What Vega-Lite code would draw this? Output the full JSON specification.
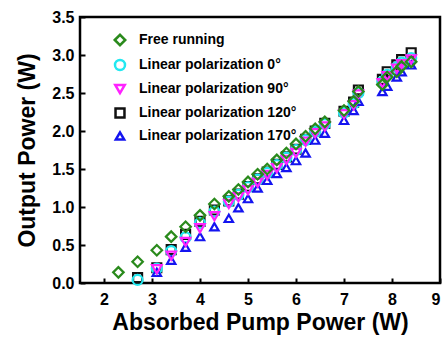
{
  "$schema": "https://vega.github.io/schema/vega-lite/v6.json",
  "width": 360,
  "height": 266,
  "autosize": {"type": "none"},
  "padding": {"left": 80, "top": 17, "right": 4, "bottom": 54},
  "background": "white",
  "config": {
    "font": "Liberation Sans",
    "view": {"stroke": "black", "strokeWidth": 2.5},
    "axis": {
      "domain": false,
      "grid": false,
      "tickColor": "black",
      "tickWidth": 2,
      "tickSize": -5,
      "labelFont": "Liberation Sans",
      "labelFontWeight": "bold",
      "labelFontSize": 16,
      "labelColor": "black",
      "titleFont": "Liberation Sans",
      "titleFontWeight": "bold",
      "titleFontSize": 23,
      "titleColor": "black"
    }
  },
  "data": {
    "values": [
      {"series": "Linear polarization 120°", "k": 1, "x": 2.7, "y": 0.07},
      {"series": "Linear polarization 120°", "k": 1, "x": 3.1, "y": 0.2},
      {"series": "Linear polarization 120°", "k": 1, "x": 3.4, "y": 0.44},
      {"series": "Linear polarization 120°", "k": 1, "x": 3.7, "y": 0.64},
      {"series": "Linear polarization 120°", "k": 1, "x": 4.0, "y": 0.81},
      {"series": "Linear polarization 120°", "k": 1, "x": 4.3, "y": 0.96},
      {"series": "Linear polarization 120°", "k": 1, "x": 4.6, "y": 1.08},
      {"series": "Linear polarization 120°", "k": 1, "x": 4.8, "y": 1.17},
      {"series": "Linear polarization 120°", "k": 1, "x": 5.0, "y": 1.27},
      {"series": "Linear polarization 120°", "k": 1, "x": 5.2, "y": 1.37},
      {"series": "Linear polarization 120°", "k": 1, "x": 5.4, "y": 1.46},
      {"series": "Linear polarization 120°", "k": 1, "x": 5.6, "y": 1.56},
      {"series": "Linear polarization 120°", "k": 1, "x": 5.8, "y": 1.66},
      {"series": "Linear polarization 120°", "k": 1, "x": 6.0, "y": 1.76},
      {"series": "Linear polarization 120°", "k": 1, "x": 6.2, "y": 1.89},
      {"series": "Linear polarization 120°", "k": 1, "x": 6.4, "y": 2.0},
      {"series": "Linear polarization 120°", "k": 1, "x": 6.6, "y": 2.1},
      {"series": "Linear polarization 120°", "k": 1, "x": 7.0, "y": 2.26},
      {"series": "Linear polarization 120°", "k": 1, "x": 7.2, "y": 2.38},
      {"series": "Linear polarization 120°", "k": 1, "x": 7.3, "y": 2.54},
      {"series": "Linear polarization 120°", "k": 1, "x": 7.8, "y": 2.68},
      {"series": "Linear polarization 120°", "k": 1, "x": 7.9, "y": 2.78},
      {"series": "Linear polarization 120°", "k": 1, "x": 8.1, "y": 2.87},
      {"series": "Linear polarization 120°", "k": 1, "x": 8.2, "y": 2.94},
      {"series": "Linear polarization 120°", "k": 1, "x": 8.4, "y": 3.03},

      {"series": "Linear polarization 0°", "k": 2, "x": 2.7, "y": 0.04},
      {"series": "Linear polarization 0°", "k": 2, "x": 3.1, "y": 0.19},
      {"series": "Linear polarization 0°", "k": 2, "x": 3.4, "y": 0.42},
      {"series": "Linear polarization 0°", "k": 2, "x": 3.7, "y": 0.6},
      {"series": "Linear polarization 0°", "k": 2, "x": 4.0, "y": 0.79},
      {"series": "Linear polarization 0°", "k": 2, "x": 4.3, "y": 0.94},
      {"series": "Linear polarization 0°", "k": 2, "x": 4.6, "y": 1.07},
      {"series": "Linear polarization 0°", "k": 2, "x": 4.8, "y": 1.16},
      {"series": "Linear polarization 0°", "k": 2, "x": 5.0, "y": 1.26},
      {"series": "Linear polarization 0°", "k": 2, "x": 5.2, "y": 1.36},
      {"series": "Linear polarization 0°", "k": 2, "x": 5.4, "y": 1.45},
      {"series": "Linear polarization 0°", "k": 2, "x": 5.6, "y": 1.55},
      {"series": "Linear polarization 0°", "k": 2, "x": 5.8, "y": 1.65},
      {"series": "Linear polarization 0°", "k": 2, "x": 6.0, "y": 1.75},
      {"series": "Linear polarization 0°", "k": 2, "x": 6.2, "y": 1.88},
      {"series": "Linear polarization 0°", "k": 2, "x": 6.4, "y": 1.99},
      {"series": "Linear polarization 0°", "k": 2, "x": 6.6, "y": 2.09},
      {"series": "Linear polarization 0°", "k": 2, "x": 7.0, "y": 2.24},
      {"series": "Linear polarization 0°", "k": 2, "x": 7.2, "y": 2.36},
      {"series": "Linear polarization 0°", "k": 2, "x": 7.3, "y": 2.5},
      {"series": "Linear polarization 0°", "k": 2, "x": 7.8, "y": 2.65},
      {"series": "Linear polarization 0°", "k": 2, "x": 7.9, "y": 2.74},
      {"series": "Linear polarization 0°", "k": 2, "x": 8.1, "y": 2.84},
      {"series": "Linear polarization 0°", "k": 2, "x": 8.2, "y": 2.9},
      {"series": "Linear polarization 0°", "k": 2, "x": 8.4, "y": 2.96},

      {"series": "Linear polarization 170°", "k": 3, "x": 3.1, "y": 0.14},
      {"series": "Linear polarization 170°", "k": 3, "x": 3.4, "y": 0.3},
      {"series": "Linear polarization 170°", "k": 3, "x": 3.7, "y": 0.47},
      {"series": "Linear polarization 170°", "k": 3, "x": 4.0, "y": 0.61},
      {"series": "Linear polarization 170°", "k": 3, "x": 4.3, "y": 0.74},
      {"series": "Linear polarization 170°", "k": 3, "x": 4.6, "y": 0.85},
      {"series": "Linear polarization 170°", "k": 3, "x": 4.8, "y": 0.99},
      {"series": "Linear polarization 170°", "k": 3, "x": 5.0, "y": 1.11},
      {"series": "Linear polarization 170°", "k": 3, "x": 5.2, "y": 1.25},
      {"series": "Linear polarization 170°", "k": 3, "x": 5.4, "y": 1.35},
      {"series": "Linear polarization 170°", "k": 3, "x": 5.6, "y": 1.44},
      {"series": "Linear polarization 170°", "k": 3, "x": 5.8, "y": 1.52},
      {"series": "Linear polarization 170°", "k": 3, "x": 6.0, "y": 1.61},
      {"series": "Linear polarization 170°", "k": 3, "x": 6.2, "y": 1.71},
      {"series": "Linear polarization 170°", "k": 3, "x": 6.4, "y": 1.88},
      {"series": "Linear polarization 170°", "k": 3, "x": 6.6, "y": 1.97},
      {"series": "Linear polarization 170°", "k": 3, "x": 7.0, "y": 2.14},
      {"series": "Linear polarization 170°", "k": 3, "x": 7.2, "y": 2.27},
      {"series": "Linear polarization 170°", "k": 3, "x": 7.3, "y": 2.39},
      {"series": "Linear polarization 170°", "k": 3, "x": 7.8, "y": 2.52},
      {"series": "Linear polarization 170°", "k": 3, "x": 7.9, "y": 2.59},
      {"series": "Linear polarization 170°", "k": 3, "x": 8.1, "y": 2.71},
      {"series": "Linear polarization 170°", "k": 3, "x": 8.2, "y": 2.78},
      {"series": "Linear polarization 170°", "k": 3, "x": 8.4, "y": 2.87},

      {"series": "Linear polarization 90°", "k": 4, "x": 3.1, "y": 0.18},
      {"series": "Linear polarization 90°", "k": 4, "x": 3.4, "y": 0.36},
      {"series": "Linear polarization 90°", "k": 4, "x": 3.7, "y": 0.54},
      {"series": "Linear polarization 90°", "k": 4, "x": 4.0, "y": 0.72},
      {"series": "Linear polarization 90°", "k": 4, "x": 4.3, "y": 0.88},
      {"series": "Linear polarization 90°", "k": 4, "x": 4.6, "y": 1.04},
      {"series": "Linear polarization 90°", "k": 4, "x": 4.8, "y": 1.13},
      {"series": "Linear polarization 90°", "k": 4, "x": 5.0, "y": 1.22},
      {"series": "Linear polarization 90°", "k": 4, "x": 5.2, "y": 1.32},
      {"series": "Linear polarization 90°", "k": 4, "x": 5.4, "y": 1.42},
      {"series": "Linear polarization 90°", "k": 4, "x": 5.6, "y": 1.51},
      {"series": "Linear polarization 90°", "k": 4, "x": 5.8, "y": 1.62},
      {"series": "Linear polarization 90°", "k": 4, "x": 6.0, "y": 1.71},
      {"series": "Linear polarization 90°", "k": 4, "x": 6.2, "y": 1.86},
      {"series": "Linear polarization 90°", "k": 4, "x": 6.4, "y": 1.97},
      {"series": "Linear polarization 90°", "k": 4, "x": 6.6, "y": 2.06},
      {"series": "Linear polarization 90°", "k": 4, "x": 7.0, "y": 2.22},
      {"series": "Linear polarization 90°", "k": 4, "x": 7.2, "y": 2.34},
      {"series": "Linear polarization 90°", "k": 4, "x": 7.3, "y": 2.48},
      {"series": "Linear polarization 90°", "k": 4, "x": 7.8, "y": 2.63},
      {"series": "Linear polarization 90°", "k": 4, "x": 7.9, "y": 2.72},
      {"series": "Linear polarization 90°", "k": 4, "x": 8.1, "y": 2.82},
      {"series": "Linear polarization 90°", "k": 4, "x": 8.2, "y": 2.88},
      {"series": "Linear polarization 90°", "k": 4, "x": 8.4, "y": 2.94},

      {"series": "Free running", "k": 5, "x": 2.3, "y": 0.14},
      {"series": "Free running", "k": 5, "x": 2.7, "y": 0.28},
      {"series": "Free running", "k": 5, "x": 3.1, "y": 0.43},
      {"series": "Free running", "k": 5, "x": 3.4, "y": 0.61},
      {"series": "Free running", "k": 5, "x": 3.7, "y": 0.74},
      {"series": "Free running", "k": 5, "x": 4.0, "y": 0.89},
      {"series": "Free running", "k": 5, "x": 4.3, "y": 1.04},
      {"series": "Free running", "k": 5, "x": 4.6, "y": 1.14},
      {"series": "Free running", "k": 5, "x": 4.8, "y": 1.23},
      {"series": "Free running", "k": 5, "x": 5.0, "y": 1.33},
      {"series": "Free running", "k": 5, "x": 5.2, "y": 1.43},
      {"series": "Free running", "k": 5, "x": 5.4, "y": 1.5},
      {"series": "Free running", "k": 5, "x": 5.6, "y": 1.62},
      {"series": "Free running", "k": 5, "x": 5.8, "y": 1.71},
      {"series": "Free running", "k": 5, "x": 6.0, "y": 1.83},
      {"series": "Free running", "k": 5, "x": 6.2, "y": 1.93},
      {"series": "Free running", "k": 5, "x": 6.4, "y": 2.03},
      {"series": "Free running", "k": 5, "x": 6.6, "y": 2.12},
      {"series": "Free running", "k": 5, "x": 7.0, "y": 2.27},
      {"series": "Free running", "k": 5, "x": 7.2, "y": 2.39},
      {"series": "Free running", "k": 5, "x": 7.3, "y": 2.52},
      {"series": "Free running", "k": 5, "x": 7.8, "y": 2.61},
      {"series": "Free running", "k": 5, "x": 7.9, "y": 2.71},
      {"series": "Free running", "k": 5, "x": 8.1, "y": 2.78},
      {"series": "Free running", "k": 5, "x": 8.2, "y": 2.85},
      {"series": "Free running", "k": 5, "x": 8.4, "y": 2.91}
    ]
  },
  "mark": {"type": "point", "filled": false, "strokeWidth": 2.2, "opacity": 1},
  "encoding": {
    "x": {
      "field": "x", "type": "quantitative",
      "scale": {"domain": [1.5, 9], "nice": false, "zero": false},
      "axis": {"values": [2, 3, 4, 5, 6, 7, 8, 9], "format": "d", "labelPadding": 13, "title": "Absorbed Pump Power (W)", "titlePadding": 4}
    },
    "y": {
      "field": "y", "type": "quantitative",
      "scale": {"domain": [0, 3.5], "nice": false},
      "axis": {"values": [0, 0.5, 1, 1.5, 2, 2.5, 3, 3.5], "format": ".1f", "labelPadding": 11, "title": "Output Power (W)", "titlePadding": 12}
    },
    "order": {"field": "k", "type": "quantitative"},
    "color": {
      "field": "series", "type": "nominal",
      "scale": {
        "domain": ["Free running", "Linear polarization 0°", "Linear polarization 90°", "Linear polarization 120°", "Linear polarization 170°"],
        "range": ["#2a8a1c", "#22e8f0", "#ff22ff", "#111111", "#1414f0"]
      },
      "legend": {
        "title": null,
        "orient": "none",
        "legendX": 33,
        "legendY": 16,
        "padding": 0,
        "rowPadding": 4,
        "symbolSize": 70,
        "symbolStrokeWidth": 2.5,
        "symbolFillColor": "transparent",
        "labelFont": "Liberation Sans",
        "labelFontWeight": "bold",
        "labelFontSize": 14,
        "labelColor": "black",
        "labelOffset": 12,
        "labelLimit": 300
      }
    },
    "shape": {
      "field": "series", "type": "nominal",
      "scale": {
        "domain": ["Free running", "Linear polarization 0°", "Linear polarization 90°", "Linear polarization 120°", "Linear polarization 170°"],
        "range": ["diamond", "circle", "triangle-down", "square", "triangle-up"]
      }
    },
    "size": {
      "field": "series", "type": "nominal",
      "scale": {
        "domain": ["Free running", "Linear polarization 0°", "Linear polarization 90°", "Linear polarization 120°", "Linear polarization 170°"],
        "range": [110, 70, 90, 65, 90]
      },
      "legend": null
    }
  }
}
